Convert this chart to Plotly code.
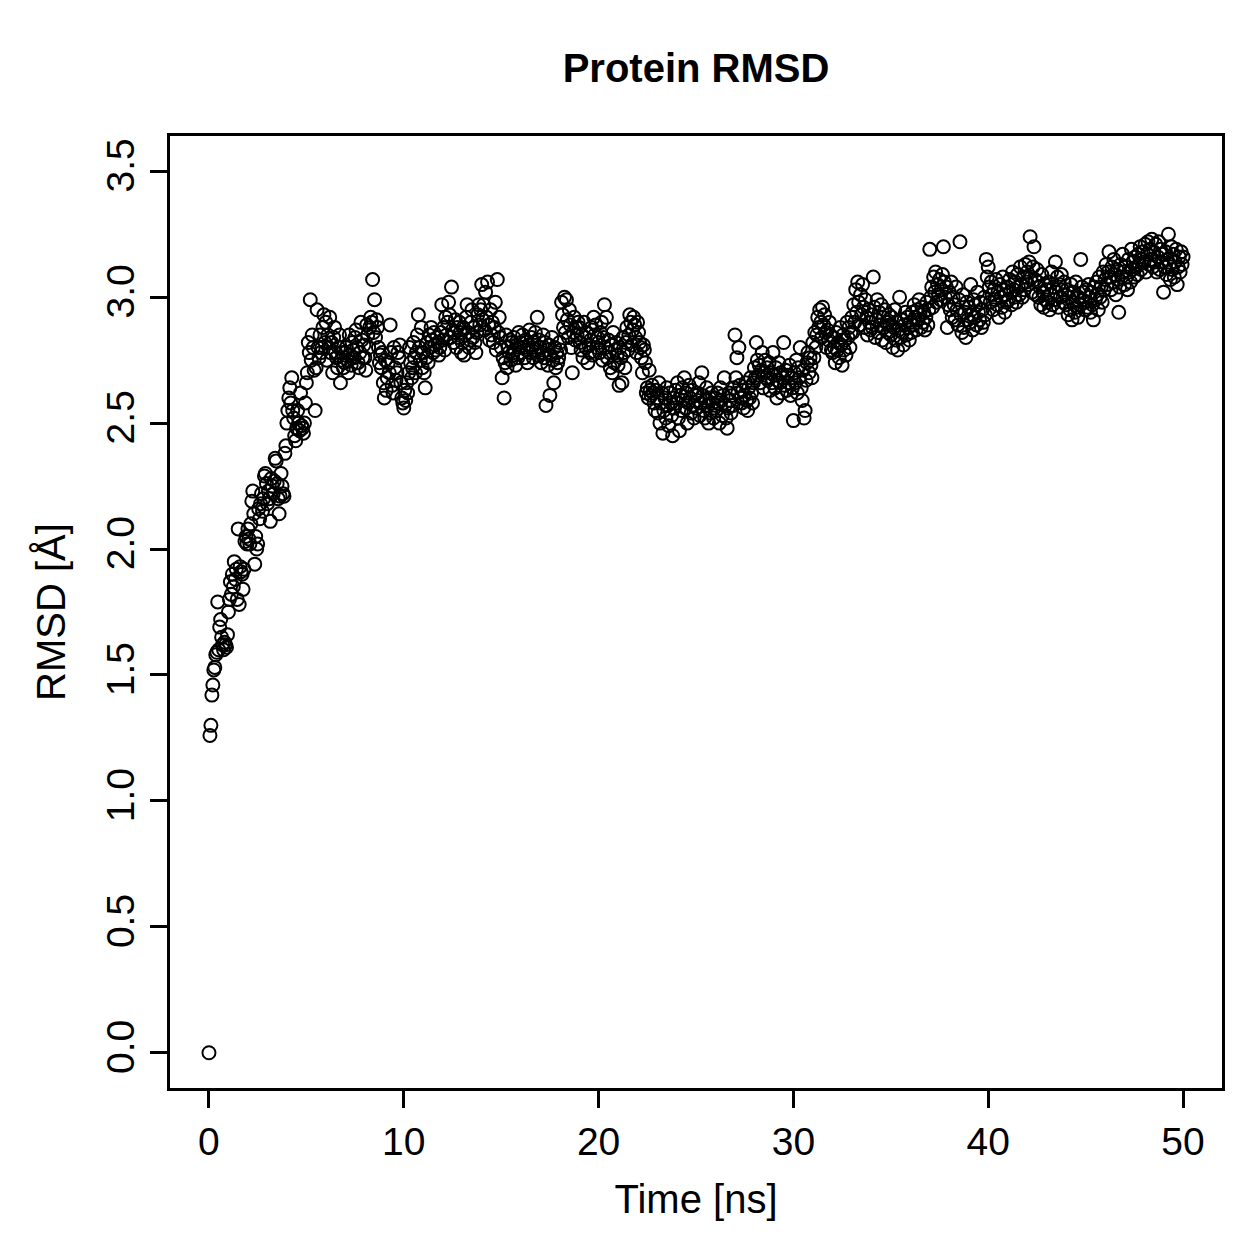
import plotly.graph_objects as go

# ---- data ----
time_step_ns = 0.05
n_frames = 1001
time_ns = [round(i * time_step_ns, 2) for i in range(n_frames)]

rmsd_angstrom = [
    # 0 ns
    0.00, 1.26, 1.30, 1.42, 1.46, 1.52, 1.53, 1.58, 1.59, 1.79, 1.60, 1.69, 1.72, 1.65, 1.62, 1.60, 1.63, 1.62, 1.61, 1.66,
    # 1 ns
    1.75, 1.80, 1.87, 1.82, 1.90, 1.85, 1.95, 1.88, 1.92, 1.80, 2.08, 1.78, 1.93, 1.91, 1.90, 1.84, 1.92, 2.03, 2.05, 2.02,
    # 2 ns
    2.08, 2.04, 2.02, 2.10, 2.19, 2.23, 2.14, 1.94, 2.05, 2.00, 2.02, 2.16, 2.12, 2.18, 2.22, 2.15, 2.20, 2.29, 2.30, 2.26,
    # 3 ns
    2.18, 2.23, 2.20, 2.11, 2.28, 2.25, 2.22, 2.27, 2.36, 2.35, 2.26, 2.20, 2.14, 2.21, 2.30, 2.25, 2.22, 2.21, 2.38, 2.41,
    # 4 ns
    2.50, 2.55, 2.60, 2.64, 2.58, 2.68, 2.55, 2.52, 2.45, 2.43, 2.48, 2.55, 2.50, 2.47, 2.62, 2.49, 2.48, 2.46, 2.50, 2.58,
    # 5 ns
    2.66, 2.70, 2.82, 2.78, 2.99, 2.75, 2.85, 2.80, 2.71, 2.55, 2.72, 2.95, 2.80, 2.76, 2.85, 2.78, 2.80, 2.88, 2.93, 2.82,
    # 6 ns
    2.90, 2.75, 2.85, 2.80, 2.92, 2.78, 2.82, 2.70, 2.84, 2.88, 2.78, 2.76, 2.72, 2.80, 2.85, 2.66, 2.75, 2.78, 2.72, 2.74,
    # 7 ns
    2.78, 2.80, 2.75, 2.70, 2.85, 2.77, 2.73, 2.82, 2.79, 2.76, 2.84, 2.87, 2.80, 2.74, 2.72, 2.78, 2.90, 2.83, 2.76, 2.81,
    # 8 ns
    2.76, 2.71, 2.89, 2.85, 2.80, 2.88, 2.92, 2.90, 3.07, 2.86, 2.99, 2.84, 2.91, 2.88, 2.80, 2.74, 2.77, 2.72, 2.78, 2.66,
    # 9 ns
    2.60, 2.75, 2.63, 2.68, 2.74, 2.70, 2.89, 2.78, 2.65, 2.62, 2.80, 2.72, 2.67, 2.70, 2.78, 2.76, 2.81, 2.66, 2.60, 2.58,
    # 10 ns
    2.56, 2.63, 2.59, 2.66, 2.62, 2.70, 2.80, 2.74, 2.68, 2.72, 2.82, 2.76, 2.70, 2.78, 2.85, 2.93, 2.80, 2.75, 2.88, 2.72,
    # 11 ns
    2.78, 2.70, 2.64, 2.76, 2.82, 2.74, 2.85, 2.80, 2.88, 2.83, 2.78, 2.86, 2.81, 2.79, 2.84, 2.82, 2.77, 2.80, 2.86, 2.97,
    # 12 ns
    2.83, 2.88, 2.79, 2.92, 2.85, 2.90, 2.98, 2.93, 2.84, 3.04, 2.87, 2.82, 2.86, 2.91, 2.80, 2.88, 2.84, 2.90, 2.86, 2.78,
    # 13 ns
    2.82, 2.88, 2.77, 2.85, 2.92, 2.97, 2.86, 2.80, 2.83, 2.90, 2.95, 2.84, 2.88, 2.82, 2.78, 2.86, 2.93, 2.97, 2.89, 2.95,
    # 14 ns
    3.05, 2.91, 2.97, 2.87, 3.02, 2.92, 3.06, 2.89, 2.83, 2.95, 2.85, 2.90, 2.82, 2.88, 2.98, 2.79, 3.07, 2.86, 2.92, 2.84,
    # 15 ns
    2.80, 2.68, 2.76, 2.60, 2.74, 2.85, 2.72, 2.80, 2.78, 2.83, 2.75, 2.82, 2.77, 2.84, 2.79, 2.73, 2.81, 2.76, 2.86, 2.80,
    # 16 ns
    2.82, 2.78, 2.85, 2.80, 2.76, 2.83, 2.79, 2.74, 2.81, 2.87, 2.78, 2.84, 2.80, 2.76, 2.82, 2.86, 2.79, 2.92, 2.77, 2.83,
    # 17 ns
    2.80, 2.74, 2.78, 2.85, 2.76, 2.82, 2.57, 2.79, 2.73, 2.81, 2.61, 2.77, 2.84, 2.75, 2.66, 2.80, 2.72, 2.78, 2.74, 2.76,
    # 18 ns
    2.82, 2.79, 2.98, 2.93, 2.88, 3.00, 2.86, 2.99, 2.91, 2.84, 2.95, 2.89, 2.80, 2.70, 2.86, 2.92, 2.83, 2.88, 2.85, 2.90,
    # 19 ns
    2.88, 2.82, 2.79, 2.85, 2.76, 2.90, 2.84, 2.80, 2.86, 2.74, 2.81, 2.78, 2.83, 2.88, 2.77, 2.92, 2.85, 2.89, 2.80, 2.84,
    # 20 ns
    2.82, 2.78, 2.86, 2.90, 2.75, 2.84, 2.97, 2.80, 2.92, 2.76, 2.83, 2.78, 2.72, 2.81, 2.70, 2.86, 2.74, 2.79, 2.82, 2.77,
    # 21 ns
    2.73, 2.65, 2.80, 2.76, 2.66, 2.84, 2.78, 2.72, 2.82, 2.88, 2.79, 2.85, 2.93, 2.90, 2.81, 2.87, 2.92, 2.89, 2.84, 2.78,
    # 22 ns
    2.90, 2.86, 2.82, 2.80, 2.76, 2.70, 2.81, 2.79, 2.74, 2.62, 2.64, 2.60, 2.71, 2.63, 2.61, 2.65, 2.62, 2.58, 2.55, 2.63,
    # 23 ns
    2.60, 2.54, 2.66, 2.50, 2.58, 2.62, 2.46, 2.55, 2.60, 2.52, 2.64, 2.57, 2.49, 2.62, 2.58, 2.53, 2.45, 2.60, 2.56, 2.63,
    # 24 ns
    2.58, 2.66, 2.52, 2.47, 2.61, 2.55, 2.64, 2.59, 2.68, 2.56, 2.62, 2.50, 2.58, 2.65, 2.60, 2.54, 2.63, 2.57, 2.52, 2.61,
    # 25 ns
    2.56, 2.62, 2.59, 2.66, 2.53, 2.58, 2.70, 2.61, 2.55, 2.52, 2.59, 2.64, 2.57, 2.50, 2.60, 2.54, 2.62, 2.58, 2.52, 2.56,
    # 26 ns
    2.60, 2.55, 2.62, 2.58, 2.50, 2.64, 2.59, 2.53, 2.61, 2.68, 2.57, 2.52, 2.48, 2.56, 2.62, 2.59, 2.54, 2.61, 2.57, 2.64,
    # 27 ns
    2.85, 2.68, 2.76, 2.62, 2.80, 2.65, 2.60, 2.58, 2.63, 2.56, 2.61, 2.66, 2.59, 2.55, 2.64, 2.60, 2.68, 2.62, 2.58, 2.66,
    # 28 ns
    2.72, 2.68, 2.82, 2.75, 2.69, 2.73, 2.66, 2.71, 2.78, 2.64, 2.70, 2.75, 2.68, 2.72, 2.67, 2.74, 2.63, 2.70, 2.66, 2.78,
    # 29 ns
    2.69, 2.64, 2.72, 2.60, 2.67, 2.74, 2.66, 2.70, 2.62, 2.68, 2.82, 2.65, 2.71, 2.63, 2.69, 2.66, 2.73, 2.61, 2.68, 2.64,
    # 30 ns
    2.51, 2.70, 2.66, 2.75, 2.62, 2.72, 2.68, 2.80, 2.64, 2.59, 2.71, 2.52, 2.55, 2.67, 2.74, 2.78, 2.70, 2.76, 2.73, 2.68,
    # 31 ns
    2.82, 2.76, 2.86, 2.80, 2.85, 2.92, 2.88, 2.95, 2.90, 2.84, 2.96, 2.89, 2.93, 2.86, 2.80, 2.87, 2.83, 2.90, 2.85, 2.79,
    # 32 ns
    2.78, 2.84, 2.80, 2.74, 2.86, 2.79, 2.82, 2.76, 2.88, 2.81, 2.73, 2.85, 2.79, 2.83, 2.77, 2.90, 2.84, 2.88, 2.80, 2.86,
    # 33 ns
    2.92, 2.86, 2.97, 2.90, 3.03, 2.94, 3.06, 2.98, 2.89, 3.01, 2.93, 3.05, 2.96, 2.88, 2.99, 2.92, 2.85, 2.95, 2.90, 2.87,
    # 34 ns
    2.93, 2.88, 3.08, 2.96, 2.84, 2.91, 2.99, 2.86, 2.94, 2.89, 2.97, 2.83, 2.92, 2.88, 2.95, 2.82, 2.90, 2.86, 2.93, 2.89,
    # 35 ns
    2.85, 2.92, 2.80, 2.88, 2.95, 2.83, 2.90, 2.79, 2.87, 3.00, 2.84, 2.91, 2.86, 2.81, 2.89, 2.94, 2.85, 2.92, 2.88, 2.83,
    # 36 ns
    2.90, 2.86, 2.94, 2.89, 2.97, 2.92, 2.87, 2.95, 2.91, 2.99, 2.93, 2.88, 2.96, 2.90, 2.94, 2.87, 2.92, 2.98, 2.89, 2.95,
    # 37 ns
    3.19, 3.00, 3.04, 2.96, 3.08, 3.02, 3.10, 2.98, 3.05, 3.01, 3.07, 2.99, 3.03, 3.09, 3.20, 3.06, 3.00, 3.04, 2.88, 2.97,
    # 38 ns
    3.02, 2.95, 3.06, 2.92, 3.00, 2.97, 2.91, 3.04, 2.95, 2.89, 2.99, 3.22, 2.93, 2.86, 3.01, 2.88, 2.94, 2.84, 2.98, 2.91,
    # 39 ns
    2.96, 2.90, 3.05, 2.93, 2.87, 2.99, 2.92, 2.97, 2.89, 3.02, 2.94, 2.91, 2.98, 2.88, 2.95, 2.90, 3.00, 2.93, 3.15, 3.08,
    # 40 ns
    3.12, 3.04, 2.98, 3.06, 3.01, 2.95, 3.03, 2.99, 3.07, 2.97, 3.02, 2.92, 3.05, 3.00, 2.96, 3.08, 3.03, 2.94, 3.01, 2.98,
    # 41 ns
    3.04, 2.99, 3.07, 3.02, 2.97, 3.10, 3.03, 3.00, 3.06, 2.98, 3.09, 3.04, 3.01, 3.12, 3.05, 3.00, 3.08, 3.03, 3.13, 3.06,
    # 42 ns
    3.10, 3.05, 3.14, 3.24, 3.08, 3.02, 3.12, 3.20, 3.07, 3.01, 3.11, 3.06, 3.00, 3.04, 2.97, 3.09, 3.02, 2.96, 3.05, 2.99,
    # 43 ns
    3.03, 2.98, 3.06, 2.95, 3.01, 3.10, 2.97, 3.04, 2.99, 3.14, 3.02, 3.08, 2.96, 3.05, 3.00, 3.09, 3.03, 2.98, 3.06, 3.01,
    # 44 ns
    2.97, 3.03, 2.93, 3.00, 2.95, 3.05, 2.91, 2.98, 3.02, 2.94, 3.06, 2.96, 2.92, 3.00, 2.97, 3.15, 3.04, 2.99, 3.02, 2.95,
    # 45 ns
    2.98, 3.03, 2.96, 3.05, 3.00, 2.94, 3.02, 2.97, 2.91, 3.04, 2.99, 3.06, 3.01, 2.95, 3.08, 3.00, 3.04, 2.98, 3.10, 3.03,
    # 46 ns
    3.07, 3.13, 3.05, 3.10, 3.18, 3.08, 3.03, 3.12, 3.06, 3.15, 3.09, 3.01, 3.11, 3.07, 2.94, 3.04, 3.13, 3.08, 3.17, 3.10,
    # 47 ns
    3.05, 3.12, 3.08, 3.03, 3.15, 3.10, 3.06, 3.19, 3.11, 3.14, 3.08, 3.16, 3.12, 3.09, 3.17, 3.13, 3.20, 3.11, 3.15, 3.18,
    # 48 ns
    3.14, 3.21, 3.10, 3.17, 3.22, 3.13, 3.19, 3.15, 3.23, 3.12, 3.18, 3.14, 3.21, 3.10, 3.16, 3.22, 3.11, 3.19, 3.14, 3.17,
    # 49 ns
    3.02, 3.12, 3.18, 3.09, 3.15, 3.25, 3.13, 3.07, 3.20, 3.11, 3.17, 3.08, 3.14, 3.19, 3.05, 3.12, 3.16, 3.10, 3.18, 3.13,
    # 50 ns
    3.16,
]

x_tick_values = [0, 10, 20, 30, 40, 50]
y_tick_values = [0.0, 0.5, 1.0, 1.5, 2.0, 2.5, 3.0, 3.5]
y_tick_labels = ["0.0", "0.5", "1.0", "1.5", "2.0", "2.5", "3.0", "3.5"]

title_text = "Protein RMSD"
x_title = "Time [ns]"
y_title = "RMSD [Å]"

FONT = "Liberation Sans, Arial, Helvetica, sans-serif"

fig = go.Figure(
    go.Scatter(
        x=time_ns,
        y=rmsd_angstrom,
        mode="markers",
        marker=dict(symbol="circle-open", size=13, color="black",
                    line=dict(width=2, color="black")),
        hoverinfo="x+y",
    )
)

axis_common = dict(
    showgrid=False,
    zeroline=False,
    showline=True,
    mirror=True,
    linecolor="black",
    linewidth=3,
    ticks="outside",
    ticklen=17,
    tickwidth=3,
    tickcolor="black",
    tickfont=dict(family=FONT, size=39, color="black"),
)

fig.update_layout(
    width=1259,
    height=1259,
    paper_bgcolor="white",
    plot_bgcolor="white",
    margin=dict(l=170, r=37, t=136, b=171),
    showlegend=False,
    title=dict(
        text="<b>" + title_text + "</b>",
        font=dict(family=FONT, size=40, color="black"),
        x=0.5, xref="paper", xanchor="center",
        y=1 - 68 / 1259, yref="container", yanchor="middle",
    ),
    xaxis=dict(
        range=[-2, 52],
        tickvals=x_tick_values,
        ticktext=[str(v) for v in x_tick_values],
        title=dict(text=x_title, font=dict(family=FONT, size=40, color="black"), standoff=24),
        **axis_common,
    ),
    yaxis=dict(
        range=[-0.14, 3.64],
        tickvals=y_tick_values,
        ticktext=y_tick_labels,
        tickangle=-90,
        title=dict(text=y_title, font=dict(family=FONT, size=40, color="black"), standoff=22),
        **axis_common,
    ),
)

fig.write_html("out.html")
